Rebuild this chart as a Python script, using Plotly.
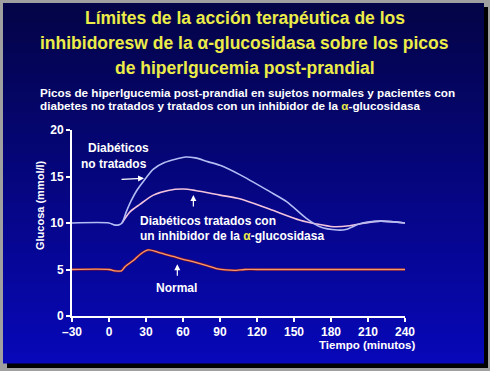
import plotly.graph_objects as go

# ---- data ----
t_untreated = [-30, 0, 4, 8, 10.5, 14, 18, 23, 28, 36, 45, 55, 62, 70, 80, 90, 106, 130, 144, 160, 171, 185, 192, 204, 220, 240]
y_untreated = [10, 10, 9.8, 9.8, 10.0, 11.2, 12.4, 13.6, 14.5, 15.8, 16.5, 16.9, 17.1, 17.0, 16.6, 16.2, 15.2, 13.4, 12.3, 10.5, 9.6, 9.25, 9.3, 9.95, 10.2, 10.0]

t_treated = [10.5, 17, 25, 36, 48, 60, 70, 90, 106, 130, 155, 168, 182, 195, 205, 220, 240]
y_treated = [10.0, 11.2, 12.0, 13.0, 13.5, 13.65, 13.5, 13.0, 12.6, 11.5, 10.3, 9.9, 9.6, 9.7, 9.95, 10.2, 10.0]

t_normal = [-30, 0, 5, 10, 13, 20, 26, 32, 40, 52, 60, 68, 80, 87, 95, 103, 110, 120, 240]
y_normal = [5, 5, 4.85, 4.85, 5.3, 6.0, 6.7, 7.1, 6.85, 6.4, 6.1, 5.85, 5.4, 5.1, 4.95, 4.9, 5.0, 5.0, 5.0]

x_ticks = [-30, 0, 30, 60, 90, 120, 150, 180, 210, 240]
x_tick_labels = ["\u201330", "0", "30", "60", "90", "120", "150", "180", "210", "240"]
y_ticks = [0, 5, 10, 15, 20]

W, H = 490, 371
L, R, T, B = 72, 85, 130, 55
PW, PH = W - L - R, H - T - B

def px(x):
    return (x - L) / PW

def py(y):
    return (H - B - y) / PH

FONT = "Liberation Sans, Arial, sans-serif"
YEL = "#ecec48"
ALPHA = "<span style='color:#ecec48'>\u03b1</span>"

fig = go.Figure()
fig.add_trace(go.Scatter(x=t_treated, y=y_treated, mode="lines",
                         line=dict(color="#f4c4dc", width=1.6, shape="spline", smoothing=0.8),
                         hoverinfo="skip"))
fig.add_trace(go.Scatter(x=t_untreated, y=y_untreated, mode="lines",
                         line=dict(color="#b4bcf4", width=1.6, shape="spline", smoothing=0.8),
                         hoverinfo="skip"))
fig.add_trace(go.Scatter(x=t_normal, y=y_normal, mode="lines",
                         line=dict(color="#7a1030", width=2.6, shape="spline", smoothing=0.8),
                         hoverinfo="skip"))
fig.add_trace(go.Scatter(x=t_normal, y=y_normal, mode="lines",
                         line=dict(color="#f49a6c", width=1.3, shape="spline", smoothing=0.8),
                         hoverinfo="skip"))

shapes = []
# shadow
shapes.append(dict(type="rect", xref="paper", yref="paper", x0=px(7), x1=px(488), y0=py(368), y1=py(7),
                   fillcolor="#000000", line=dict(width=0), layer="below"))
# gradient panel
top, bot = 3, 363
n = 36
c0 = (4, 4, 72)
c1 = (8, 8, 184)
for i in range(n):
    y0 = top + (bot - top) * i / n
    y1 = top + (bot - top) * (i + 1) / n
    f = i / (n - 1)
    c = tuple(int(c0[k] + (c1[k] - c0[k]) * f) for k in range(3))
    shapes.append(dict(type="rect", xref="paper", yref="paper", x0=px(3), x1=px(484),
                       y0=py(y1 + 0.5), y1=py(y0), fillcolor="rgb(%d,%d,%d)" % c,
                       line=dict(width=0), layer="below"))

ann = []
def text(s, x, y, size, color="white", xanchor="center", angle=0):
    ann.append(dict(text=s, xref="paper", yref="paper", x=px(x), y=py(y), showarrow=False,
                    xanchor=xanchor, yanchor="middle", textangle=angle,
                    font=dict(family=FONT, size=size, color=color, weight="bold")))

# title
text("<b>Límites de la acción terapéutica de los</b>", 245, 18, 17.5, YEL)
text("<b>inhibidoresw de la \u03b1-glucosidasa sobre los picos</b>", 245, 43, 17.5, YEL)
text("<b>de hiperlgucemia post-prandial</b>", 245, 68, 17.5, YEL)
# subtitle
text("<b>Picos de hiperlgucemia post-prandial en sujetos normales y pacientes con</b>", 38, 92, 11.7, xanchor="left")
text("<b>diabetes no tratados y tratados con un inhibidor de la " + ALPHA + "-glucosidasa</b>", 38, 106, 11.7, xanchor="left")
# labels
text("<b>Diabéticos</b>", 118, 148, 12)
text("<b>no tratados</b>", 114, 164, 12)
text("<b>Diabéticos tratados con</b>", 138, 221, 12, xanchor="left")
text("<b>un inhibidor de la " + ALPHA + "-glucosidasa</b>", 138, 236, 12, xanchor="left")
text("<b>Normal</b>", 176, 288, 12)
text("<b>Tiempo (minutos)</b>", 367, 344.5, 11.5)
text("<b>Glucosa (mmol/l)</b>", 40, 205, 11, angle=-90)

# arrows
def arrow(x, y, ax, ay):
    ann.append(dict(x=x, y=y, xref="x", yref="y", ax=ax, ay=ay, axref="pixel", ayref="pixel",
                    text="", showarrow=True, arrowhead=2, arrowsize=1, arrowwidth=1.2,
                    arrowcolor="white"))
arrow(28.4, 14.8, -24, 1)
arrow(68.4, 13.0, 0, 13)
arrow(55.4, 5.56, 0, 13)

fig.update_layout(
    width=W, height=H,
    margin=dict(l=L, r=R, t=T, b=B, pad=0),
    paper_bgcolor="#a0a0a0",
    plot_bgcolor="rgba(0,0,0,0)",
    showlegend=False,
    shapes=shapes,
    annotations=ann,
    font=dict(family=FONT, color="white"),
    xaxis=dict(range=[-30, 240], tickvals=x_ticks, ticktext=x_tick_labels,
               showgrid=False, zeroline=False, showline=True, linecolor="white", linewidth=2,
               ticks="outside", ticklen=4, tickwidth=2, tickcolor="white",
               tickfont=dict(family=FONT, size=12, color="white", weight="bold"), fixedrange=True),
    yaxis=dict(range=[0, 20], tickvals=y_ticks,
               showgrid=False, zeroline=False, showline=True, linecolor="white", linewidth=2,
               ticks="outside", ticklen=4, tickwidth=2, tickcolor="white",
               tickfont=dict(family=FONT, size=12, color="white", weight="bold"), fixedrange=True),
)

fig.write_html("out.html", config={"displayModeBar": False},
               post_script="document.body.style.margin='0px';document.body.style.padding='0px';")
